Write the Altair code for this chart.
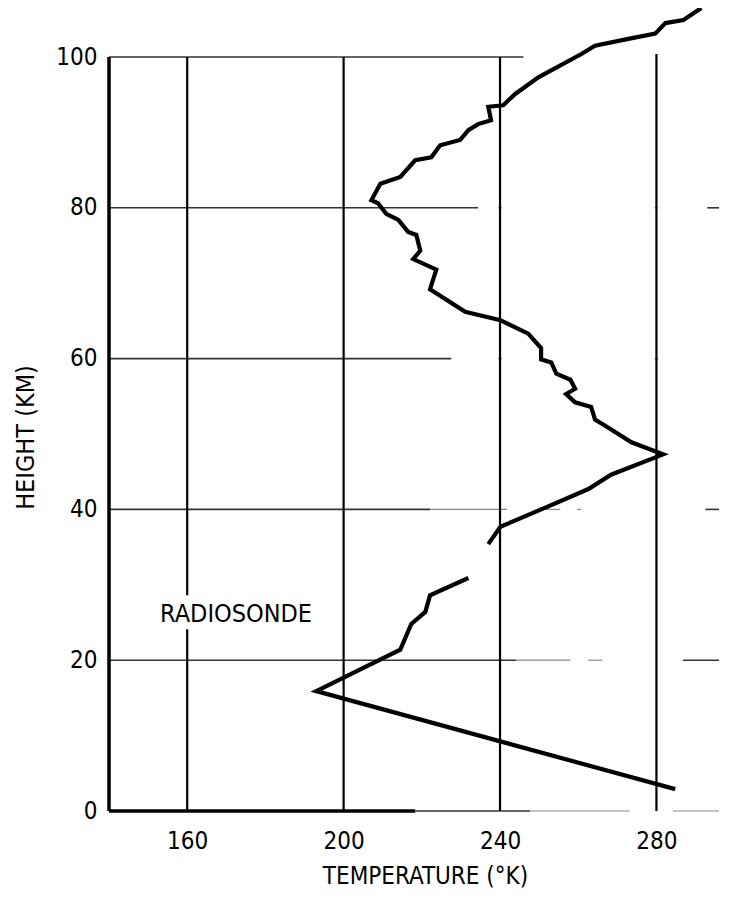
import altair as alt
import pandas as pd

# ---- data ----
rocket_temp = [291.5, 286.9, 282.3, 279.7, 272.8, 264.3, 260.8, 249.8, 243.9, 240.8,
               237.0, 237.7, 234.4, 231.9, 229.8, 224.7, 222.4, 218.3, 214.5, 209.4,
               207.1, 208.8, 210.9, 214.0, 216.5, 218.6, 219.6, 217.8, 223.7, 222.1,
               231.1, 240.1, 247.2, 250.5, 250.5, 253.1, 254.4, 258.0, 259.2, 256.9,
               259.2, 263.3, 264.3, 266.9, 273.6, 281.7, 268.4, 262.6, 251.0, 240.1, 237.0]
rocket_height = [106.5, 104.9, 104.5, 103.1, 102.4, 101.5, 100.4, 97.3, 95.1, 93.6,
                 93.4, 91.6, 91.1, 90.3, 89.0, 88.3, 86.7, 86.3, 84.1, 83.2,
                 81.0, 80.6, 79.2, 78.4, 76.8, 76.4, 74.3, 73.2, 71.8, 69.2,
                 66.2, 65.1, 63.3, 61.4, 59.9, 59.5, 58.0, 57.2, 56.0, 55.3,
                 54.2, 53.6, 51.9, 51.1, 48.9, 47.3, 44.6, 42.7, 40.1, 37.7, 35.4]
radiosonde_temp = [231.9, 222.1, 220.9, 217.3, 214.5, 193.0, 284.8]
radiosonde_height = [30.9, 28.6, 26.4, 24.8, 21.4, 15.9, 2.9]

x_ticks = [160, 200, 240, 280]
y_ticks = [0, 20, 40, 60, 80, 100]

# vertical grid lines (temperature, from height, to height)
vgrid_temp = [160, 160, 200, 240, 280]
vgrid_from = [0, 28.6, 0, 0, 0]
vgrid_to = [24.1, 100, 100, 100, 100.4]

# horizontal grid pieces (height, from temp, to temp) - solid parts
hgrid_height = [100, 80, 60, 40, 20, 0, 80, 40, 20]
hgrid_from = [140, 140, 140, 140, 140, 218.3, 293.0, 292.5, 286.8]
hgrid_to = [246, 234.4, 227.5, 222.1, 244.1, 247.7, 296, 296, 296]

# faded parts of the scanned grid lines
faint_height = [40, 40, 40, 20, 20, 0, 0, 80, 80, 60, 60]
faint_from = [222.1, 251.3, 259.7, 244.1, 262.6, 247.7, 284.2, 239.5, 279.5, 239.5, 279.5]
faint_to = [241.8, 255.4, 260.8, 258.0, 266.2, 273.2, 296, 240.5, 280.5, 240.5, 280.5]

# heavy frame pieces: left border and bottom
frame_x1 = [140, 140]
frame_x2 = [140, 218.3]
frame_y1 = [0, 0]
frame_y2 = [100, 0]

label_text = ["RADIOSONDE"]
label_temp = [172.5]
label_height = [26.1]

FONT = "DejaVu Sans Condensed, Liberation Sans, sans-serif"

xs = alt.Scale(domain=[140, 296], nice=False, zero=False)
ys = alt.Scale(domain=[0, 100], nice=False, zero=False)

x_axis = alt.Axis(values=x_ticks, title="TEMPERATURE (°K)", grid=False, domain=False,
                  ticks=False, labelFontSize=24, labelPadding=18, labelFont=FONT,
                  labelColor="black", titleFont=FONT, titleFontSize=24,
                  titleFontWeight="normal", titleColor="black", titleY=53,
                  titleX=316, titleBaseline="top", labelFlush=False)
y_axis = alt.Axis(values=y_ticks, title="HEIGHT (KM)", grid=False, domain=False,
                  ticks=False, labelFontSize=24, labelPadding=12, labelFont=FONT,
                  labelColor="black", titleFont=FONT, titleFontSize=25,
                  titleFontWeight="normal", titleColor="black", titleX=-84,
                  titleY=380, titleBaseline="middle", labelFlush=False)

curve_df = pd.DataFrame({
    "temp": rocket_temp + radiosonde_temp,
    "height": rocket_height + radiosonde_height,
    "series": ["rocket"] * len(rocket_temp) + ["radiosonde"] * len(radiosonde_temp),
    "idx": list(range(len(rocket_temp))) + list(range(len(radiosonde_temp))),
})

vgrid_df = pd.DataFrame({"x1": vgrid_temp, "x2": vgrid_temp, "y1": vgrid_from, "y2": vgrid_to})
hgrid_df = pd.DataFrame({"x1": hgrid_from, "x2": hgrid_to, "y1": hgrid_height, "y2": hgrid_height})
faint_df = pd.DataFrame({"x1": faint_from, "x2": faint_to, "y1": faint_height, "y2": faint_height})
frame_df = pd.DataFrame({"x1": frame_x1, "x2": frame_x2, "y1": frame_y1, "y2": frame_y2})
label_df = pd.DataFrame({"text": label_text, "temp": label_temp, "height": label_height})


def segs(df, width, color):
    return alt.Chart(df).mark_rule(color=color, strokeWidth=width).encode(
        x=alt.X("x1:Q", scale=xs, axis=x_axis), x2="x2:Q",
        y=alt.Y("y1:Q", scale=ys, axis=y_axis), y2="y2:Q")


faint = segs(faint_df, 1.2, "#8a8a8a")
hgrid = segs(hgrid_df, 1.6, "#333333")
vgrid = segs(vgrid_df, 2.2, "black")
frame = segs(frame_df, 3.5, "black")

curve = alt.Chart(curve_df).mark_line(color="black", strokeWidth=4.2).encode(
    x=alt.X("temp:Q", scale=xs, axis=x_axis),
    y=alt.Y("height:Q", scale=ys, axis=y_axis),
    detail="series:N",
    order="idx:Q",
)

label = alt.Chart(label_df).mark_text(font=FONT, fontSize=25, color="black").encode(
    x=alt.X("temp:Q", scale=xs, axis=x_axis),
    y=alt.Y("height:Q", scale=ys, axis=y_axis),
    text="text:N",
)

chart = alt.layer(faint, hgrid, vgrid, frame, curve, label).properties(
    width=610,
    height=754,
    padding={"left": 101, "top": 49, "right": 0, "bottom": 77},
    autosize=alt.AutoSizeParams(type="none"),
    background="white",
).configure_view(stroke=None)

chart.save("out.html", embed_options={"renderer": "svg", "actions": False})
